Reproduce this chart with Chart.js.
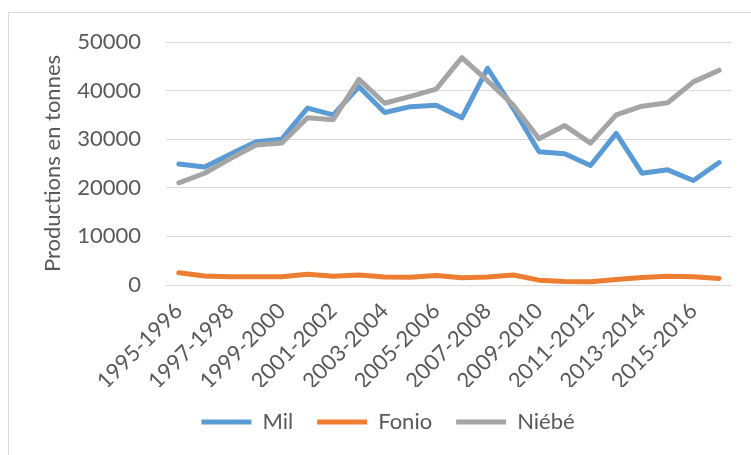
<!DOCTYPE html>
<html lang="fr">
<head>
<meta charset="utf-8">
<script src="https://cdn.jsdelivr.net/npm/chart.js@4.4.1/dist/chart.umd.min.js"></script>
<style>
  html, body { margin: 0; padding: 0; background: #fff; overflow: hidden; }
  #frame { position: absolute; left: 8px; top: 12px; width: 760px; height: 460px; border: 1px solid #d9d9d9; }
  #chart { display: block; }
</style>
</head>
<body>
<div id="frame"><canvas id="chart" width="760" height="442"></canvas></div>
<script>
const saisons = [
    '1995-1996', '1996-1997', '1997-1998', '1998-1999', '1999-2000', '2000-2001',
    '2001-2002', '2002-2003', '2003-2004', '2004-2005', '2005-2006', '2006-2007',
    '2007-2008', '2008-2009', '2009-2010', '2010-2011', '2011-2012', '2012-2013',
    '2013-2014', '2014-2015', '2015-2016', '2016-2017'
];
const mil = [24900, 24300, 26900, 29500, 30000, 36400, 35000, 40800, 35500, 36700, 37000,
    34400, 44600, 36300, 27400, 27000, 24600, 31200, 23000, 23700, 21500, 25200];
const fonio = [2500, 1850, 1700, 1700, 1700, 2200, 1800, 2050, 1650, 1600, 1950,
    1500, 1650, 2050, 1000, 700, 650, 1150, 1550, 1800, 1700, 1350];
const niebe = [21000, 23000, 26000, 28800, 29200, 34400, 34000, 42300, 37400, 38800, 40300,
    46800, 42000, 37000, 30100, 32800, 29200, 35000, 36800, 37500, 41800, 44200];

const texte = '#595959';
const grille = '#d9d9d9';
const police = { family: 'Lato', size: 22 };

function serie(label, data, color, order) {
    return {
        label: label,
        data: data,
        borderColor: color,
        backgroundColor: color,
        borderWidth: 5,
        borderCapStyle: 'round',
        borderJoinStyle: 'round',
        pointRadius: 0,
        tension: 0,
        order: order
    };
}

const ctx = document.getElementById('chart').getContext('2d');
new Chart(ctx, {
    type: 'line',
    data: {
        labels: saisons,
        datasets: [
            serie('Mil', mil, '#5b9bd5', 3),
            serie('Fonio', fonio, '#ed7d31', 2),
            serie('Niébé', niebe, '#a5a5a5', 1)
        ]
    },
    options: {
        responsive: false,
        animation: false,
        layout: { padding: { left: 35, right: 37, top: 29, bottom: 12 } },
        plugins: {
            tooltip: { enabled: false },
            legend: {
                position: 'bottom',
                labels: {
                    usePointStyle: true,
                    pointStyle: 'line',
                    pointStyleWidth: 50,
                    padding: 24,
                    color: texte,
                    font: police,
                    sort: (a, b) => a.datasetIndex - b.datasetIndex
                }
            }
        },
        scales: {
            x: {
                offset: true,
                grid: { display: false },
                border: { display: false },
                ticks: {
                    autoSkip: false,
                    minRotation: 45,
                    maxRotation: 45,
                    padding: 5,
                    color: texte,
                    font: police,
                    // one season out of two is labelled
                    callback: (v, i) => i % 2 === 0 ? saisons[i] : ''
                },
                afterFit: (scale) => { scale.height = 102; }
            },
            y: {
                min: 0,
                max: 50000,
                grid: { color: grille, lineWidth: 1, drawTicks: false },
                border: { display: false },
                ticks: { stepSize: 10000, padding: 25, color: texte, font: police, callback: (v) => String(v) },
                title: {
                    display: true,
                    text: 'Productions en tonnes',
                    color: texte,
                    font: police,
                    padding: { top: -4, bottom: 0 }
                },
                afterFit: (scale) => {
                    scale.width = 122;
                    scale.paddingTop = 0;
                    scale.paddingBottom = 0;
                }
            }
        }
    }
});
</script>
</body>
</html>
